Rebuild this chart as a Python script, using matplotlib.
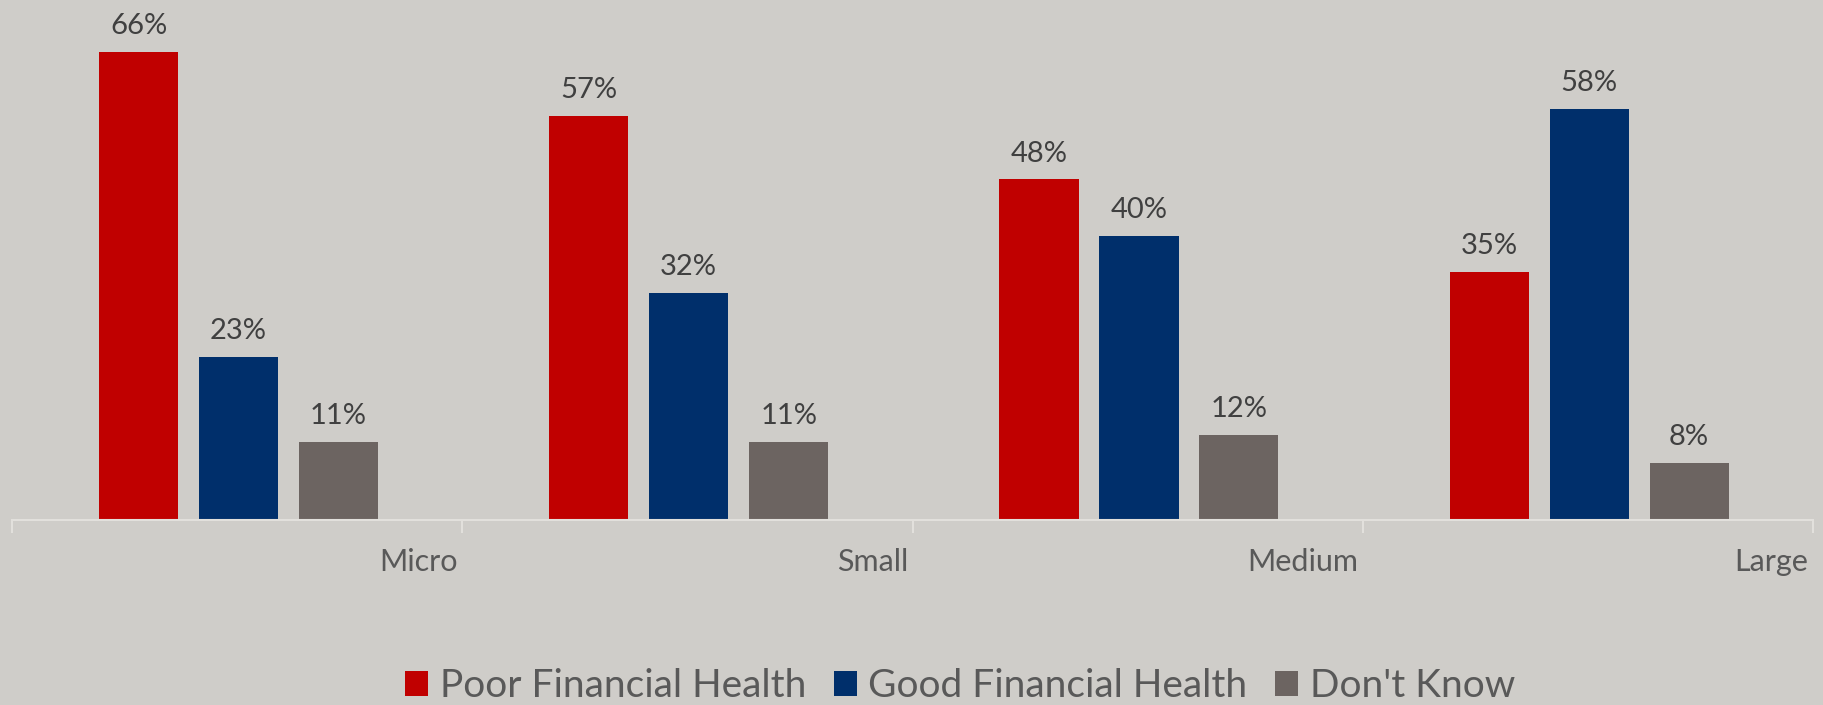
import matplotlib.pyplot as plt
import numpy as np

# Financial health by business size
sizes = ['Micro', 'Small', 'Medium', 'Large']
poor = [66, 57, 48, 35]
good = [23, 32, 40, 58]
dont_know = [11, 11, 12, 8]

series = ['Poor Financial Health', 'Good Financial Health', "Don't Know"]
colors = ['#C00000', '#002F6B', '#6C6461']

bg = '#CFCDC9'
plt.rcParams['font.family'] = ['Lato', 'DejaVu Sans']

fig = plt.figure(figsize=(18.23, 7.05), dpi=100, facecolor=bg)
ax = fig.add_axes([12 / 1823, 185 / 705, 1801 / 1823, 520 / 705])
ax.set_facecolor(bg)

x = np.arange(len(sizes))
width = 0.1756
offsets = [0.281, 0.503, 0.725]

for vals, name, col, off in zip([poor, good, dont_know], series, colors, offsets):
    bars = ax.bar(x + off, vals, width, color=col, label=name)
    for b, v in zip(bars, vals):
        ax.text(b.get_x() + b.get_width() / 2, v + 1.8, f'{v}%',
                ha='center', va='bottom', fontsize=21, color='#404040')

ax.set_xlim(0, 4)
ax.set_ylim(0, 73.3)
ax.set_yticks([])

# category boundaries get the tick marks, names sit at the right of each group
ax.set_xticks(np.arange(5))
ax.set_xticklabels([])
ax.tick_params(axis='x', which='major', length=9, width=1.5, color='#E2E0DC')
ax.set_xticks(x + 0.99, minor=True)
ax.set_xticklabels(sizes, minor=True, ha='right', fontsize=22, color='#595959')
ax.tick_params(axis='x', which='minor', length=0, pad=20)

for s in ['top', 'right', 'left']:
    ax.spines[s].set_visible(False)
ax.spines['bottom'].set_color('#E2E0DC')
ax.spines['bottom'].set_linewidth(1.5)

leg = fig.legend(loc='center', bbox_to_anchor=(960 / 1823, 1 - 686 / 705), ncol=3,
                 frameon=False, fontsize=28, handlelength=0.6, handleheight=0.6,
                 handletextpad=0.3, columnspacing=0.7, labelcolor='#595959')

fig.savefig('out.png', dpi=100, facecolor=bg)
